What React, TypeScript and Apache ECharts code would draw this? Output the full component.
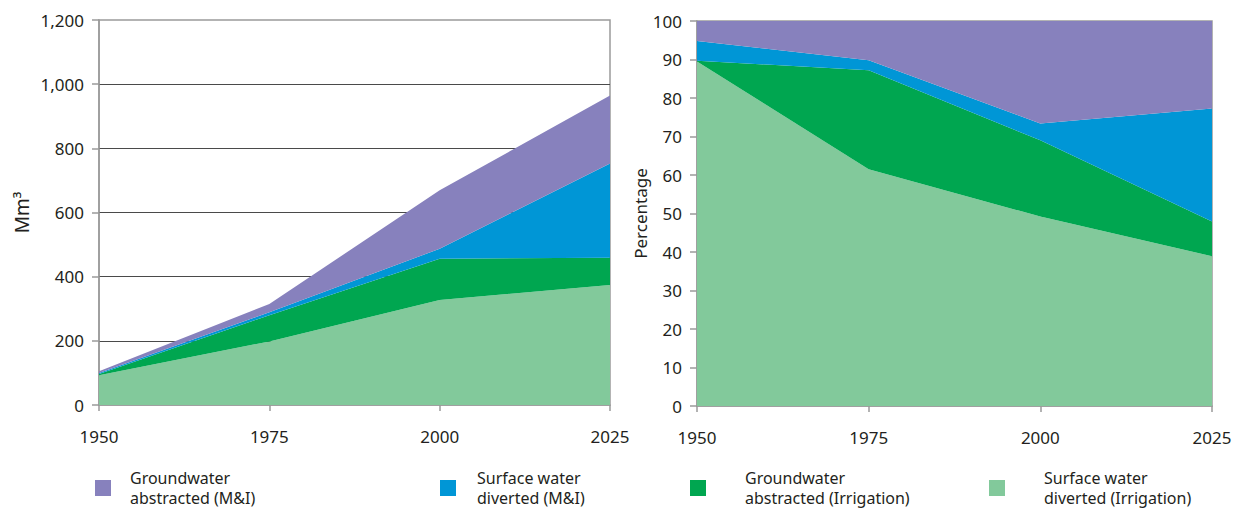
import React, { useEffect, useRef } from "react";
import * as echarts from "echarts";

const years = ["1950", "1975", "2000", "2025"];
const seriesNames = [
  "Surface water diverted (Irrigation)",
  "Groundwater abstracted (Irrigation)",
  "Surface water diverted (M&I)",
  "Groundwater abstracted (M&I)",
];
const legendLabels = [
  "Groundwater\nabstracted (M&I)",
  "Surface water\ndiverted (M&I)",
  "Groundwater\nabstracted (Irrigation)",
  "Surface water\ndiverted (Irrigation)",
];
const colors = ["#82c99b", "#00a650", "#0096d6", "#8781bd"];

// Volumes (Mm3), stacked bottom to top
const swIrrigation = [93, 198, 327, 374];
const gwIrrigation = [4, 82, 129, 85];
const swMI = [3, 9, 31, 294];
const gwMI = [5, 26, 182, 212];

// Percentages, stacked bottom to top
const swIrrigationPct = [89.5, 61.5, 49.2, 38.9];
const gwIrrigationPct = [0.2, 25.7, 19.8, 9.0];
const swMIPct = [5.1, 2.6, 4.4, 29.4];
const gwMIPct = [5.2, 10.2, 26.6, 22.7];

const volumeData = [swIrrigation, gwIrrigation, swMI, gwMI];
const pctData = [swIrrigationPct, gwIrrigationPct, swMIPct, gwMIPct];

const FONT = "Noto Sans";
const TEXT = "#231f20";
const AXIS_GRAY = "#9a9a9a";

export default function App() {
  const ref = useRef<HTMLDivElement>(null);
  useEffect(() => {
    document.body.style.margin = "0";
    if (!ref.current) return;
    const chart = echarts.init(ref.current, null, { renderer: "svg" });

    const xAxisBase = (gridIndex: number) => ({
      type: "category",
      gridIndex,
      data: years,
      boundaryGap: false,
      axisLine: { lineStyle: { color: AXIS_GRAY, width: 1.5 } },
      axisTick: { show: true, length: 6, alignWithLabel: true, lineStyle: { color: AXIS_GRAY, width: 1.5 } },
      axisLabel: { color: TEXT, fontFamily: FONT, fontSize: 17, margin: 23 },
      splitLine: { show: false },
    });

    const legendPos = [
      { left: 90, gap: 14 },
      { left: 435, gap: 16 },
      { left: 685, gap: 34 },
      { left: 984, gap: 34 },
    ];
    const legendOrder = [3, 2, 1, 0];

    const option: any = {
      animation: false,
      textStyle: { fontFamily: FONT },
      grid: [
        { left: 99, top: 20, width: 511, height: 385, show: true, borderColor: AXIS_GRAY, borderWidth: 1.5 },
        { left: 697, top: 21, width: 515, height: 385, show: true, borderColor: AXIS_GRAY, borderWidth: 1.5 },
      ],
      xAxis: [xAxisBase(0), xAxisBase(1)],
      yAxis: [
        {
          type: "value",
          gridIndex: 0,
          min: 0,
          max: 1200,
          interval: 200,
          name: "Mm³",
          nameLocation: "middle",
          nameGap: 68,
          nameTextStyle: { color: TEXT, fontFamily: FONT, fontSize: 19 },
          axisLine: { show: true, lineStyle: { color: AXIS_GRAY, width: 1.5 } },
          axisTick: { show: true, length: 7, lineStyle: { color: AXIS_GRAY, width: 1.5 } },
          axisLabel: {
            color: TEXT,
            fontFamily: FONT,
            fontSize: 17,
            margin: 15,
            formatter: (v: number) => v.toLocaleString("en-US"),
          },
          splitLine: { show: true, showMinLine: false, showMaxLine: false, lineStyle: { color: "#4a4a4a", width: 1 } },
        },
        {
          type: "value",
          gridIndex: 1,
          min: 0,
          max: 100,
          interval: 10,
          name: "Percentage",
          nameLocation: "middle",
          nameGap: 47,
          nameTextStyle: { color: TEXT, fontFamily: FONT, fontSize: 17 },
          axisLine: { show: true, lineStyle: { color: AXIS_GRAY, width: 1.5 } },
          axisTick: { show: true, length: 7, lineStyle: { color: AXIS_GRAY, width: 1.5 } },
          axisLabel: { color: TEXT, fontFamily: FONT, fontSize: 17, margin: 15 },
          splitLine: { show: false },
        },
      ],
      legend: legendOrder.map((si, i) => ({
        show: true,
        left: legendPos[i].left,
        top: 463,
        orient: "horizontal",
        icon: "rect",
        itemWidth: 16,
        itemHeight: 16,
        selectedMode: false,
        data: [seriesNames[si]],
        formatter: () => legendLabels[i],
        textStyle: {
          color: TEXT,
          fontFamily: FONT,
          fontSize: 16,
          lineHeight: 20,
          padding: [0, 0, 0, legendPos[i].gap],
        },
      })),
      series: [
        ...volumeData.map((d, i) => ({
          name: seriesNames[i],
          type: "line",
          xAxisIndex: 0,
          yAxisIndex: 0,
          stack: "vol",
          data: d,
          showSymbol: false,
          symbol: "none",
          lineStyle: { width: 0 },
          itemStyle: { color: colors[i] },
          areaStyle: { color: colors[i], opacity: 1 },
        })),
        ...pctData.map((d, i) => ({
          name: seriesNames[i],
          type: "line",
          xAxisIndex: 1,
          yAxisIndex: 1,
          stack: "pct",
          data: d,
          showSymbol: false,
          symbol: "none",
          lineStyle: { width: 0 },
          itemStyle: { color: colors[i] },
          areaStyle: { color: colors[i], opacity: 1 },
        })),
      ],
    };
    chart.setOption(option);
    return () => chart.dispose();
  }, []);
  return <div ref={ref} style={{ width: 1236, height: 511 }} />;
}
